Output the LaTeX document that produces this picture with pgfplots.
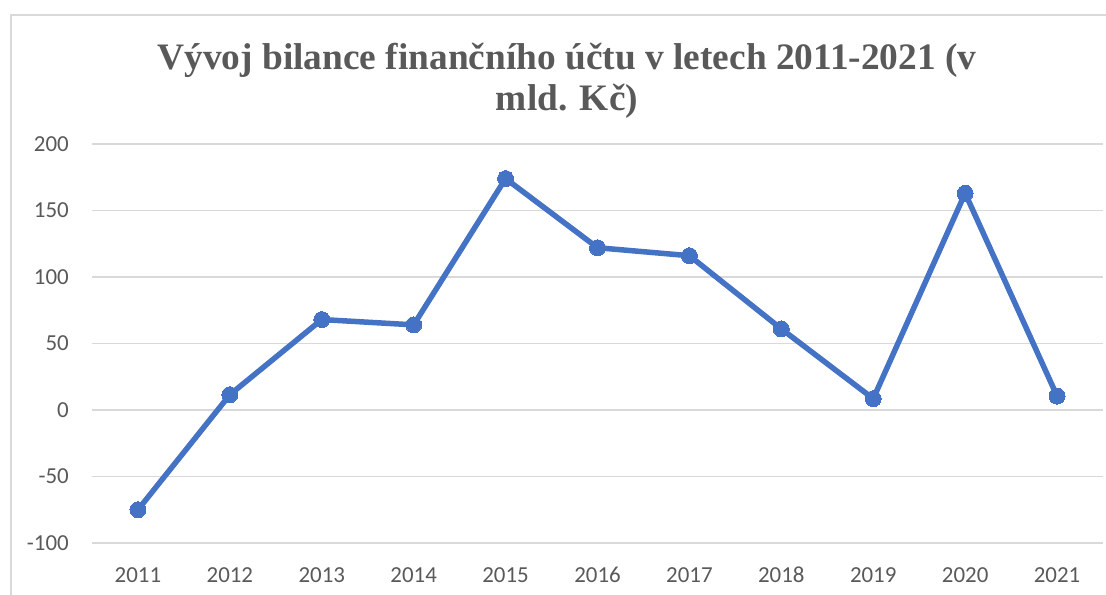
\documentclass[border=0pt]{standalone}
\usepackage{pgfplots}
\pgfplotsset{compat=1.18}
\usepackage{fontspec}
\setmainfont{Liberation Serif}
\newfontfamily\carlito{Carlito}
\definecolor{txt}{HTML}{595959}
\definecolor{gridc}{HTML}{D9D9D9}
\definecolor{ser}{HTML}{4472C4}
\begin{document}
\begin{tikzpicture}[x=1bp,y=1bp]
\path[use as bounding box] (0,0) rectangle (1106,595);
\draw[gridc, line width=1.5bp] (11,-5) -- (11,580) -- (1110,580);
\node[anchor=base, text=txt, font=\bfseries\fontsize{37.5}{42}\selectfont] at (567,525) {Vývoj bilance finančního účtu v letech 2011-2021 (v};
\node[anchor=base, text=txt, font=\bfseries\fontsize{37.5}{42}\selectfont] at (567,484) {mld. Kč)};
\begin{axis}[
  at={(92bp,52bp)}, anchor=south west,
  scale only axis, width=1011bp, height=399bp,
  xmin=-0.5, xmax=10.5, ymin=-100, ymax=200,
  axis line style={draw=none},
  major tick length=0pt,
  xtick={0,...,10},
  xticklabels={2011,2012,2013,2014,2015,2016,2017,2018,2019,2020,2021},
  ytick={-100,-50,0,50,100,150,200},
  yticklabels={-100,-50,0,50,100,150,200},
  ymajorgrids,
  grid style={gridc, line width=1.3bp},
  ticklabel style={font=\carlito\fontsize{23}{23}\selectfont, text=txt, inner sep=0pt},
  yticklabel style={anchor=east, xshift=-23bp},
  xticklabel style={anchor=north, yshift=-24bp},
  clip=false,
]
\addplot[ser, line width=5.5bp, line join=round, mark=*, mark size=8bp, mark options={fill=ser, draw=ser, line width=0pt}] coordinates {
(0,-75) (1,11.5) (2,68) (3,64) (4,174) (5,122) (6,116) (7,61) (8,8.5) (9,163) (10,10.5)
};
\end{axis}
\end{tikzpicture}
\end{document}
